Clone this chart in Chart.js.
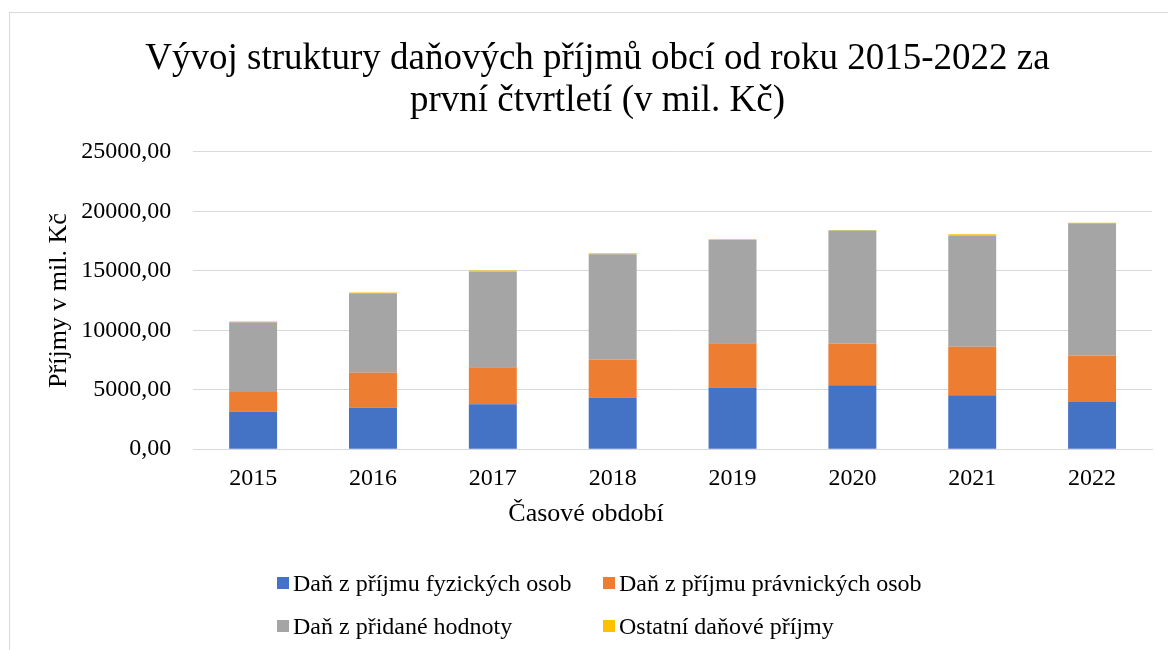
<!DOCTYPE html>
<html>
<head>
<meta charset="utf-8">
<script src="https://cdn.jsdelivr.net/npm/chart.js@4.4.0/dist/chart.umd.min.js"></script>
<style>
  html, body { margin: 0; padding: 0; background: #fff; overflow: hidden; }
  #wrap { position: relative; width: 1168px; height: 650px; font-family: 'Liberation Serif', 'Times New Roman', serif; color: #000; }
  #frame { position: absolute; left: 9px; top: 12px; width: 1200px; height: 700px; border-left: 1px solid #d9d9d9; border-top: 1px solid #d9d9d9; }
  canvas { position: absolute; left: 0; top: 0; }
  #xTitle { position: absolute; left: 386px; width: 400px; top: 498px; text-align: center; font-size: 26px; line-height: 30px; }
  #legend { position: absolute; left: 277px; top: 569px; display: grid; grid-template-columns: 326px auto; row-gap: 15px; font-size: 24px; line-height: 28px; }
  .item { display: flex; align-items: center; white-space: nowrap; }
  .box { width: 12px; height: 12px; margin-right: 4px; }
</style>
</head>
<body>
<div id="wrap">
  <div id="frame"></div>
  <canvas id="chart" width="1168" height="650"></canvas>
  <div id="xTitle"></div>
  <div id="legend"></div>
</div>
<script>
// roky (kategorie)
const years = ['2015', '2016', '2017', '2018', '2019', '2020', '2021', '2022'];

// hodnoty v mil. Kč
const danFyzicke = [3150, 3490, 3790, 4350, 5190, 5380, 4540, 3960];
const danPravnicke = [1650, 2940, 3110, 3170, 3720, 3480, 4070, 3920];
const danDph = [5880, 6690, 8040, 8870, 8690, 9520, 9350, 11110];
const ostatni = [50, 60, 80, 80, 50, 60, 110, 60];

const seriesNames = ['Daň z příjmu fyzických osob', 'Daň z příjmu právnických osob', 'Daň z přidané hodnoty', 'Ostatní daňové příjmy'];
const seriesColors = ['#4472C4', '#ED7D31', '#A5A5A5', '#FFC000'];
const yTicks = [0, 5000, 10000, 15000, 20000, 25000];

const chartTitle = ['Vývoj struktury daňových příjmů obcí od roku 2015-2022 za', 'první čtvrtletí (v mil. Kč)'];
const yTitle = 'Příjmy v mil. Kč';
const xTitle = 'Časové období';

const font = 'Liberation Serif';
const values = [danFyzicke, danPravnicke, danDph, ostatni];

const datasets = values.map((data, i) => ({
  label: seriesNames[i],
  data: data,
  backgroundColor: seriesColors[i],
  borderWidth: 0,
  categoryPercentage: 1,
  barPercentage: 0.4,
}));

const ctx = document.getElementById('chart').getContext('2d');
const chart = new Chart(ctx, {
  type: 'bar',
  data: { labels: years, datasets: datasets },
  options: {
    responsive: false,
    animation: false,
    layout: { padding: { left: 43, right: 16, top: 0, bottom: 142 } },
    plugins: {
      legend: { display: false },
      tooltip: { enabled: false },
      title: {
        display: true,
        text: chartTitle,
        color: '#000',
        font: { family: font, size: 37, weight: 'normal', lineHeight: 1.12 },
        padding: { top: 39, bottom: 30 },
      },
    },
    scales: {
      x: {
        stacked: true,
        grid: { display: false, drawTicks: false },
        border: { color: '#d9d9d9', width: 1 },
        ticks: { color: '#000', font: { family: font, size: 24 }, padding: 15 },
      },
      y: {
        stacked: true,
        min: 0,
        max: 25000,
        afterBuildTicks: (axis) => { axis.ticks = yTicks.map(v => ({ value: v })); },
        grid: { color: '#d9d9d9', lineWidth: 1, drawTicks: false },
        border: { display: false },
        ticks: {
          color: '#000',
          font: { family: font, size: 24 },
          padding: 22,
          callback: (v) => v.toFixed(2).replace('.', ','),
        },
        title: {
          display: true,
          text: yTitle,
          color: '#000',
          font: { family: font, size: 26 },
          padding: { top: 1, bottom: -16 },
        },
      },
    },
  },
});

document.getElementById('xTitle').textContent = xTitle;

// legenda 2x2 jako v originale
const legend = document.getElementById('legend');
chart.data.datasets.forEach(ds => {
  const item = document.createElement('div');
  item.className = 'item';
  const box = document.createElement('span');
  box.className = 'box';
  box.style.background = ds.backgroundColor;
  const txt = document.createElement('span');
  txt.textContent = ds.label;
  item.appendChild(box);
  item.appendChild(txt);
  legend.appendChild(item);
});
</script>
</body>
</html>
